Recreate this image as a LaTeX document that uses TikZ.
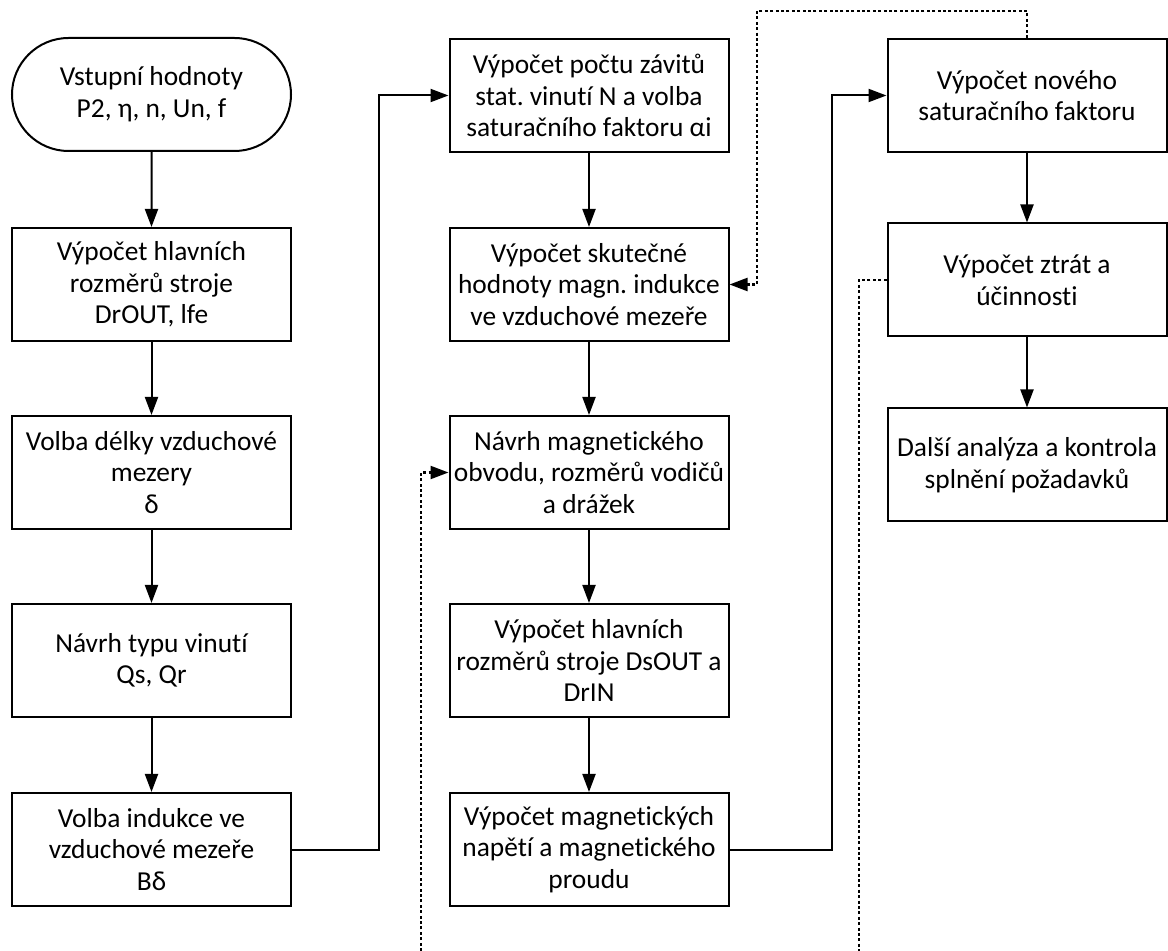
\documentclass[tikz,border=0pt]{standalone}
\usepackage{fontspec}
\setmainfont{Carlito}[Ligatures=NoCommon]
\usetikzlibrary{arrows.meta,shapes.misc}

\begin{document}
\begin{tikzpicture}[x=0.5pt,y=-0.5pt,
    every node/.style={font=\fontsize{13.7}{15.8}\selectfont, align=center},
    stepbox/.style={draw=black, line width=1pt, minimum width=139.5pt, minimum height=56.5pt, inner sep=0pt},
    startbox/.style={stepbox, rounded rectangle},
    flow/.style={draw=black, line width=1pt, -{Triangle[length=9pt,width=6.5pt]}},
    loop/.style={draw=black, line width=1.1pt, dash pattern=on 1.5pt off 1.2pt},
  ]
  \useasboundingbox (0,0) rectangle (1168,951);
  % first column
  \node[startbox] (input) at (151.5,94.5) {Vstupní hodnoty\\P2, η, n, Un, f};
  \node[stepbox] (dims) at (151.5,284.5) {Výpočet hlavních\\rozměrů stroje\\DrOUT, lfe};
  \node[stepbox] (gap) at (151.5,472.5) {Volba délky vzduchové\\mezery\\δ};
  \node[stepbox] (wind) at (151.5,660.5) {Návrh typu vinutí\\Qs, Qr};
  \node[stepbox] (ind) at (151.5,849.5) {Volba indukce ve\\vzduchové mezeře\\Bδ};
  % second column
  \node[stepbox] (turns) at (589,95.5) {Výpočet počtu závitů\\stat.\ vinutí N a volba\\saturačního faktoru αi};
  \node[stepbox] (bgap) at (589,284.5) {Výpočet skutečné\\hodnoty magn.\ indukce\\ve vzduchové mezeře};
  \node[stepbox] (magc) at (589,472.5) {Návrh magnetického\\obvodu, rozměrů vodičů\\a drážek};
  \node[stepbox] (dims2) at (589,660.5) {Výpočet hlavních\\rozměrů stroje DsOUT a\\DrIN};
  \node[stepbox] (magv) at (589,849.5) {Výpočet magnetických\\napětí a magnetického\\proudu};
  % third column
  \node[stepbox] (sat) at (1027,95.5) {Výpočet nového\\saturačního faktoru};
  \node[stepbox] (loss) at (1027,280) {Výpočet ztrát a\\účinnosti};
  \node[stepbox] (check) at (1027,465) {Další analýza a kontrola\\splnění požadavků};
  % free ends and bends of the loops
  \coordinate (loopin) at (421,951);
  \coordinate (looptop) at (757,11);
  \coordinate (lossout) at (859,951);

  \draw[flow] (input) -- (dims);
  \draw[flow] (dims) -- (gap);
  \draw[flow] (gap) -- (wind);
  \draw[flow] (wind) -- (ind);
  \draw[flow] (ind.east) -- ++(87,0) |- (turns.west);
  \draw[flow] (turns) -- (bgap);
  \draw[flow] (bgap) -- (magc);
  \draw[flow] (magc) -- (dims2);
  \draw[flow] (dims2) -- (magv);
  \draw[flow] (magv.east) -- ++(102,0) |- (sat.west);
  \draw[flow] (sat) -- (loss);
  \draw[flow] (loss) -- (check);
  % dotted loops
  \draw[loop, -{Triangle[length=9pt,width=6.5pt]}] (loopin) |- (magc.west);
  \draw[loop, -{Triangle[length=9pt,width=6.5pt]}] (sat.north) |- (looptop) |- (bgap.east);
  \draw[loop] (loss.west) -| (lossout);
\end{tikzpicture}
\end{document}
